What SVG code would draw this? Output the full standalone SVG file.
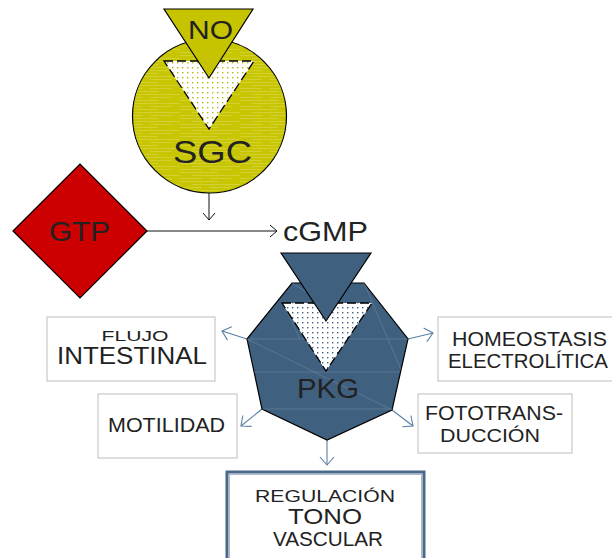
<svg xmlns="http://www.w3.org/2000/svg" width="612" height="558" viewBox="0 0 612 558">
  <defs>
    <style>
      .t { font-family: "Liberation Sans", Arial, sans-serif; fill: #222222; text-anchor: middle; }
      .box { fill: #ffffff; stroke: #bdbdbd; stroke-width: 1; }
      .link { fill: none; stroke: #111; stroke-width: 1; }
      .blue { fill: none; stroke: #5b7fa6; stroke-width: 1.1; }
      .edge { stroke: #000; stroke-width: 1.2; stroke-linejoin: miter; }
    </style>
    <!-- streaked yellow fill of the SGC disc -->
    <pattern id="streaks" patternUnits="userSpaceOnUse" width="60" height="9">
      <rect width="60" height="9" fill="#c8c600"/>
      <path d="M0 1.5 H38 M12 4.5 H60 M0 7.5 H22 M30 7.5 H52" stroke="#dcdb5a" stroke-width="1" opacity="0.55"/>
    </pattern>
    <!-- dotted fills for the inner triangles -->
    <pattern id="dotsY" patternUnits="userSpaceOnUse" width="5" height="5">
      <rect width="5" height="5" fill="#ffffff"/>
      <rect x="2" y="2" width="1.4" height="1.4" fill="#b9b800"/>
    </pattern>
    <pattern id="dotsB" patternUnits="userSpaceOnUse" width="5" height="5">
      <rect width="5" height="5" fill="#ffffff"/>
      <rect x="2" y="2" width="1.4" height="1.4" fill="#3f607f"/>
    </pattern>
    <marker id="headK" markerUnits="userSpaceOnUse" viewBox="-9 -8 10 16" refX="0" refY="0" markerWidth="10" markerHeight="16" orient="auto" overflow="visible">
      <path d="M-7,-6 L0,0 L-7,6" fill="none" stroke="#111" stroke-width="1"/>
    </marker>
    <marker id="headB" markerUnits="userSpaceOnUse" viewBox="-10 -9 11 18" refX="0" refY="0" markerWidth="11" markerHeight="18" orient="auto" overflow="visible">
      <path d="M-8,-7 L0,0 L-8,7" fill="none" stroke="#5b7fa6" stroke-width="1.1"/>
    </marker>
  </defs>

  <rect width="612" height="558" fill="#ffffff"/>

  <!-- connectors -->
  <g id="connectors">
    <line class="link" x1="209" y1="193" x2="209" y2="220" marker-end="url(#headK)"/>
    <line class="link" x1="147" y1="231" x2="277" y2="231" marker-end="url(#headK)"/>
    <line class="blue" x1="247" y1="339" x2="222" y2="331" marker-end="url(#headB)"/>
    <line class="blue" x1="408" y1="339" x2="433" y2="333" marker-end="url(#headB)"/>
    <line class="blue" x1="262" y1="409" x2="241" y2="426" marker-end="url(#headB)"/>
    <line class="blue" x1="392" y1="410" x2="413" y2="426" marker-end="url(#headB)"/>
    <line class="blue" x1="327" y1="440" x2="327" y2="465" marker-end="url(#headB)"/>
  </g>

  <!-- soluble guanylate cyclase with NO binding -->
  <g id="sgc">
    <circle cx="209.5" cy="116" r="77" fill="url(#streaks)" class="edge"/>
    <polygon points="164,61 254,61 209,129" fill="url(#dotsY)" stroke="#000" stroke-width="1.3" stroke-dasharray="9,4"/>
    <text class="t" x="212.5" y="163" font-size="32" textLength="79" lengthAdjust="spacingAndGlyphs">SGC</text>
  </g>

  <g id="no">
    <polygon points="164,9 253,9 209,78" fill="#c6c400" class="edge"/>
    <text class="t" x="210.5" y="39" font-size="25" textLength="45" lengthAdjust="spacingAndGlyphs">NO</text>
  </g>

  <g id="gtp">
    <polygon points="13,231 80,164 147,231 80,298" fill="#cc0000" class="edge"/>
    <text class="t" x="79.5" y="241" font-size="28" textLength="61" lengthAdjust="spacingAndGlyphs">GTP</text>
  </g>

  <g id="cgmp">
    <text class="t" x="325.5" y="241" font-size="28" textLength="85" lengthAdjust="spacingAndGlyphs">cGMP</text>
  </g>

  <!-- protein kinase G -->
  <g id="pkg">
    <polygon points="292,283 364,283 408,339 392,410 327,440 262,409 247,339" fill="#3f607f" class="edge"/>
    <g stroke="#9fb3c7" stroke-width="0.7" opacity="0.4" fill="none">
      <line x1="247" y1="339" x2="408" y2="339"/>
      <line x1="254" y1="372" x2="400" y2="372"/>
      <line x1="262" y1="409" x2="392" y2="409"/>
      <line x1="247" y1="339" x2="392" y2="410"/>
      <line x1="292" y1="283" x2="340" y2="313"/>
      <line x1="364" y1="283" x2="402" y2="372"/>
      <line x1="283" y1="303" x2="300" y2="339"/>
    </g>
    <polygon points="282,303 372,303 326,371" fill="url(#dotsB)" stroke="#000" stroke-width="1.3" stroke-dasharray="9,4"/>
    <polygon points="281,253 371,253 326,321" fill="#3f607f" class="edge"/>
    <text class="t" x="328" y="398" font-size="27" textLength="62" lengthAdjust="spacingAndGlyphs">PKG</text>
  </g>

  <g id="flujo-intestinal">
    <rect class="box" x="47" y="317" width="168" height="64"/>
    <text class="t" x="135" y="340.5" font-size="15.5" textLength="67" lengthAdjust="spacingAndGlyphs">FLUJO</text>
    <text class="t" x="132" y="364" font-size="23" textLength="150" lengthAdjust="spacingAndGlyphs">INTESTINAL</text>
  </g>

  <g id="motilidad">
    <rect class="box" x="98" y="394" width="139" height="64"/>
    <text class="t" x="166.5" y="432" font-size="21" textLength="117" lengthAdjust="spacingAndGlyphs">MOTILIDAD</text>
  </g>

  <g id="homeostasis">
    <rect class="box" x="438" y="317" width="190" height="64"/>
    <text class="t" x="529.5" y="346" font-size="20.5" textLength="155" lengthAdjust="spacingAndGlyphs">HOMEOSTASIS</text>
    <text class="t" x="528" y="368" font-size="20.5" textLength="160" lengthAdjust="spacingAndGlyphs">ELECTROLÍTICA</text>
  </g>

  <g id="fototransduccion">
    <rect class="box" x="418" y="394" width="154" height="59"/>
    <text class="t" x="494" y="420" font-size="20" textLength="138" lengthAdjust="spacingAndGlyphs">FOTOTRANS-</text>
    <text class="t" x="490" y="442" font-size="19" textLength="100" lengthAdjust="spacingAndGlyphs">DUCCIÓN</text>
  </g>

  <g id="tono-vascular">
    <rect x="227" y="472" width="197" height="92" fill="#ffffff" stroke="#4a6888" stroke-width="3"/>
    <rect x="229.5" y="474.5" width="192" height="90" fill="none" stroke="#a9b9ca" stroke-width="1"/>
    <text class="t" x="325" y="501.5" font-size="17" textLength="140" lengthAdjust="spacingAndGlyphs">REGULACIÓN</text>
    <text class="t" x="325" y="523.5" font-size="22" textLength="74" lengthAdjust="spacingAndGlyphs">TONO</text>
    <text class="t" x="328" y="546" font-size="20" textLength="110" lengthAdjust="spacingAndGlyphs">VASCULAR</text>
  </g>
</svg>
